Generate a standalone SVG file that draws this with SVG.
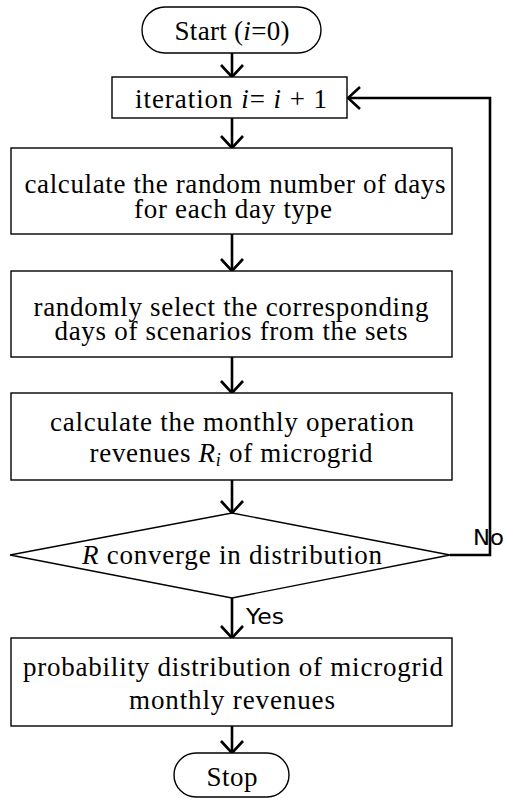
<svg xmlns="http://www.w3.org/2000/svg" width="505" height="798" viewBox="0 0 505 798">
<style>
.box{fill:#fff;stroke:#000;stroke-width:1.4}
.t{font-family:"Liberation Serif","Times New Roman",serif;font-size:27px;fill:#000;text-anchor:middle}
.lbl{font-family:"DejaVu Sans","Liberation Sans",sans-serif;font-size:21px;fill:#000}
.c{fill:none;stroke:#000;stroke-width:2.6}
.it{font-style:italic}
</style>
<defs>
<marker id="ah" viewBox="0 0 14 24" refX="13" refY="12" markerWidth="14" markerHeight="24" markerUnits="userSpaceOnUse" orient="auto">
<path d="M1,1 L13,12 L1,23" fill="none" stroke="#000" stroke-width="2.6"/>
</marker>
</defs>
<g id="connectors">
<line class="c" x1="232" y1="53" x2="232" y2="77" marker-end="url(#ah)"/>
<line class="c" x1="232" y1="118" x2="232" y2="148" marker-end="url(#ah)"/>
<line class="c" x1="232" y1="234" x2="232" y2="271" marker-end="url(#ah)"/>
<line class="c" x1="232" y1="357" x2="232" y2="393" marker-end="url(#ah)"/>
<line class="c" x1="232" y1="480" x2="232" y2="513" marker-end="url(#ah)"/>
<line class="c" x1="232" y1="598" x2="232" y2="638" marker-end="url(#ah)"/>
<line class="c" x1="232" y1="726" x2="232" y2="753" marker-end="url(#ah)"/>
<polyline class="c" points="450,555 490,555 490,98 348,98" marker-end="url(#ah)"/>
<text class="lbl" x="246" y="624" textLength="38" lengthAdjust="spacingAndGlyphs">Yes</text>
<text class="lbl" x="473" y="545" textLength="31" lengthAdjust="spacingAndGlyphs">No</text>
</g>
<g id="start">
<rect class="box" x="142" y="7" width="179" height="46" rx="23" ry="23"/>
<text class="t" x="232" y="40" textLength="115" lengthAdjust="spacing">Start (<tspan class="it">i</tspan>=0)</text>
</g>
<g id="iteration">
<rect class="box" x="112" y="77" width="235" height="41"/>
<text class="t" x="231" y="108" textLength="192" lengthAdjust="spacing">iteration  <tspan class="it">i</tspan>= <tspan class="it">i</tspan> + 1</text>
</g>
<g id="calc-days">
<rect class="box" x="11" y="148" width="441" height="86"/>
<text class="t" x="235" y="193" textLength="421" lengthAdjust="spacing">calculate the random number of days</text>
<text class="t" x="233" y="218" textLength="198" lengthAdjust="spacing">for each day type</text>
</g>
<g id="select-days">
<rect class="box" x="11" y="271" width="441" height="86"/>
<text class="t" x="231" y="316" textLength="395" lengthAdjust="spacing">randomly select the corresponding</text>
<text class="t" x="231" y="340" textLength="353" lengthAdjust="spacing">days of scenarios from the sets</text>
</g>
<g id="calc-revenue">
<rect class="box" x="11" y="393" width="441" height="87"/>
<text class="t" x="232" y="431" textLength="364" lengthAdjust="spacing">calculate the monthly operation</text>
<text class="t" x="231" y="462" textLength="283" lengthAdjust="spacing">revenues <tspan class="it">R</tspan><tspan class="it" font-size="18" dy="4">i</tspan><tspan dy="-4"> of microgrid</tspan></text>
</g>
<g id="converge">
<polygon class="box" points="232,513 450,555 232,598 10,555"/>
<text class="t" x="232" y="564" textLength="300" lengthAdjust="spacing"><tspan class="it">R</tspan> converge in distribution</text>
</g>
<g id="distribution">
<rect class="box" x="11" y="638" width="441" height="88"/>
<text class="t" x="233" y="676" textLength="420" lengthAdjust="spacing">probability distribution of microgrid</text>
<text class="t" x="232" y="709" textLength="206" lengthAdjust="spacing">monthly revenues</text>
</g>
<g id="stop">
<rect class="box" x="174" y="753" width="115" height="44" rx="22" ry="22"/>
<text class="t" x="232" y="786" textLength="51" lengthAdjust="spacing">Stop</text>
</g>
</svg>
